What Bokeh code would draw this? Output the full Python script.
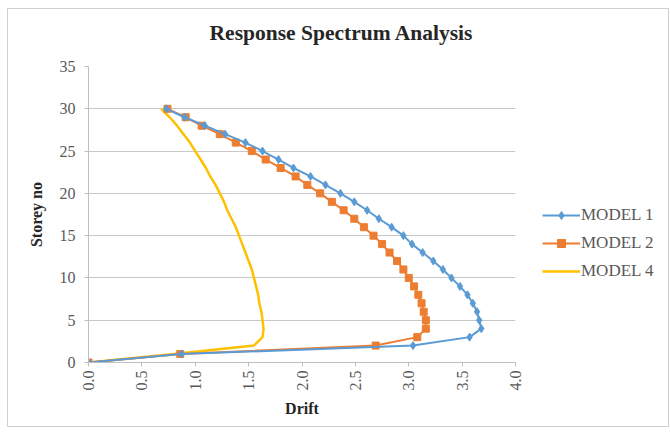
import math
from bokeh.plotting import figure
from bokeh.layouts import row, column
from bokeh.models import Range1d, Legend, LegendItem, FixedTicker, Div
from bokeh.embed import file_html
from bokeh.resources import INLINE

storey = list(range(31))
model1 = [0, 0.87, 3.04, 3.57, 3.68, 3.66, 3.64, 3.60, 3.55, 3.48, 3.40, 3.32, 3.23, 3.13, 3.03, 2.95,
          2.84, 2.72, 2.61, 2.49, 2.36, 2.22, 2.08, 1.92, 1.78, 1.63, 1.47, 1.28, 1.09, 0.90, 0.73]
model2 = [0, 0.86, 2.69, 3.08, 3.16, 3.16, 3.14, 3.12, 3.09, 3.05, 3.00, 2.95, 2.89, 2.82, 2.75, 2.67,
          2.58, 2.49, 2.39, 2.28, 2.17, 2.05, 1.94, 1.80, 1.66, 1.53, 1.38, 1.23, 1.06, 0.91, 0.74]
model4 = [0, 0.80, 1.55, 1.63, 1.64, 1.63, 1.62, 1.60, 1.59, 1.57, 1.55, 1.53, 1.50, 1.47, 1.44, 1.41,
          1.38, 1.34, 1.30, 1.27, 1.23, 1.19, 1.14, 1.10, 1.05, 1.00, 0.95, 0.89, 0.83, 0.76, 0.68]
x_ticks = [0.0, 0.5, 1.0, 1.5, 2.0, 2.5, 3.0, 3.5, 4.0]
y_ticks = [0, 5, 10, 15, 20, 25, 30, 35]
title_text = "Response Spectrum Analysis"
series_names = ["MODEL 1", "MODEL 2", "MODEL 4"]
colors = ["#5B9BD5", "#ED7D31", "#FFC000"]

SERIF = "Liberation Serif"
GRAY = "#595959"

title_div = Div(width=660, height=49, margin=(0, 0, 0, 0),
                text=('<div style="width:660px;box-sizing:border-box;padding-top:12px;padding-left:6px;'
                      "text-align:center;font-family:'Liberation Serif',serif;font-size:21.5px;"
                      'font-weight:bold;color:#262626;line-height:24px;white-space:nowrap;">'
                      + title_text + '</div>'))

p = figure(frame_width=427, frame_height=296, output_backend="svg", toolbar_location=None,
           title_location=None,
           x_range=Range1d(x_ticks[0], x_ticks[-1]), y_range=Range1d(y_ticks[0], y_ticks[-1]),
           min_border_left=80, min_border_right=10, min_border_top=8, min_border_bottom=64)
p.outline_line_color = None
p.background_fill_color = "white"
p.border_fill_color = "white"

p.xgrid.grid_line_color = None
p.ygrid.grid_line_color = "#c8c8c8"
p.ygrid.grid_line_width = 1

p.xaxis.ticker = FixedTicker(ticks=x_ticks)
p.yaxis.ticker = FixedTicker(ticks=y_ticks)
p.xaxis.major_label_overrides = {t: f"{t:.1f}" for t in x_ticks}
p.xaxis.major_label_orientation = math.pi / 2
for ax in (p.xaxis, p.yaxis):
    ax.axis_line_color = "#bfbfbf"
    ax.major_tick_line_color = "#bfbfbf"
    ax.major_tick_out = 4
    ax.major_tick_in = 0
    ax.minor_tick_line_color = None
    ax.major_label_text_font = SERIF
    ax.major_label_text_font_size = "16px"
    ax.major_label_text_color = GRAY
    ax.axis_label_text_font = SERIF
    ax.axis_label_text_font_size = "16px"
    ax.axis_label_text_font_style = "bold"
    ax.axis_label_text_color = "#262626"
p.xaxis.major_label_standoff = 4
p.yaxis.major_label_standoff = 9
p.xaxis.axis_label = "Drift"
p.yaxis.axis_label = "Storey no"
p.xaxis.axis_label_standoff = 6
p.yaxis.axis_label_standoff = 12

l4 = p.line(model4, storey, line_color=colors[2], line_width=2.5)
l2 = p.line(model2, storey, line_color=colors[1], line_width=2)
s2 = p.scatter(model2, storey, marker="square", size=7, fill_color=colors[1], line_color=colors[1])
l1 = p.line(model1, storey, line_color=colors[0], line_width=2)
s1 = p.scatter(model1, storey, marker="diamond", size=8, fill_color=colors[0], line_color=colors[0])

# legend panel to the right of the chart: same series, ranges chosen so that
# only the legend itself is visible there
lg = figure(width=142, height=368, output_backend="svg", toolbar_location=None,
            title_location=None, x_axis_type=None, y_axis_type=None, min_border=0,
            x_range=Range1d(100, 101), y_range=Range1d(100, 101))
lg.outline_line_color = None
lg.grid.grid_line_color = None
lg.background_fill_color = "white"
lg.border_fill_color = "white"
g1 = lg.line(model1, storey, line_color=colors[0], line_width=2)
g1m = lg.scatter(model1, storey, marker="diamond", size=8, fill_color=colors[0], line_color=colors[0])
g2 = lg.line(model2, storey, line_color=colors[1], line_width=2)
g2m = lg.scatter(model2, storey, marker="square", size=7, fill_color=colors[1], line_color=colors[1])
g4 = lg.line(model4, storey, line_color=colors[2], line_width=2.5)

legend = Legend(items=[LegendItem(label=series_names[0], renderers=[g1, g1m]),
                       LegendItem(label=series_names[1], renderers=[g2, g2m]),
                       LegendItem(label=series_names[2], renderers=[g4])],
                location=(17, 81), orientation="vertical",
                glyph_width=38, glyph_height=20, label_height=20, spacing=8,
                label_standoff=1, padding=0, margin=0,
                border_line_color=None, background_fill_alpha=0,
                label_text_font=SERIF, label_text_font_size="17px", label_text_color=GRAY)
lg.add_layout(legend)

layout = column(title_div, row(p, lg),
                styles={"border": "1px solid #d0d0d0", "margin": "8px 0px 0px 7px",
                        "background-color": "white"})

open("out.html", "w").write(file_html(layout, INLINE))
